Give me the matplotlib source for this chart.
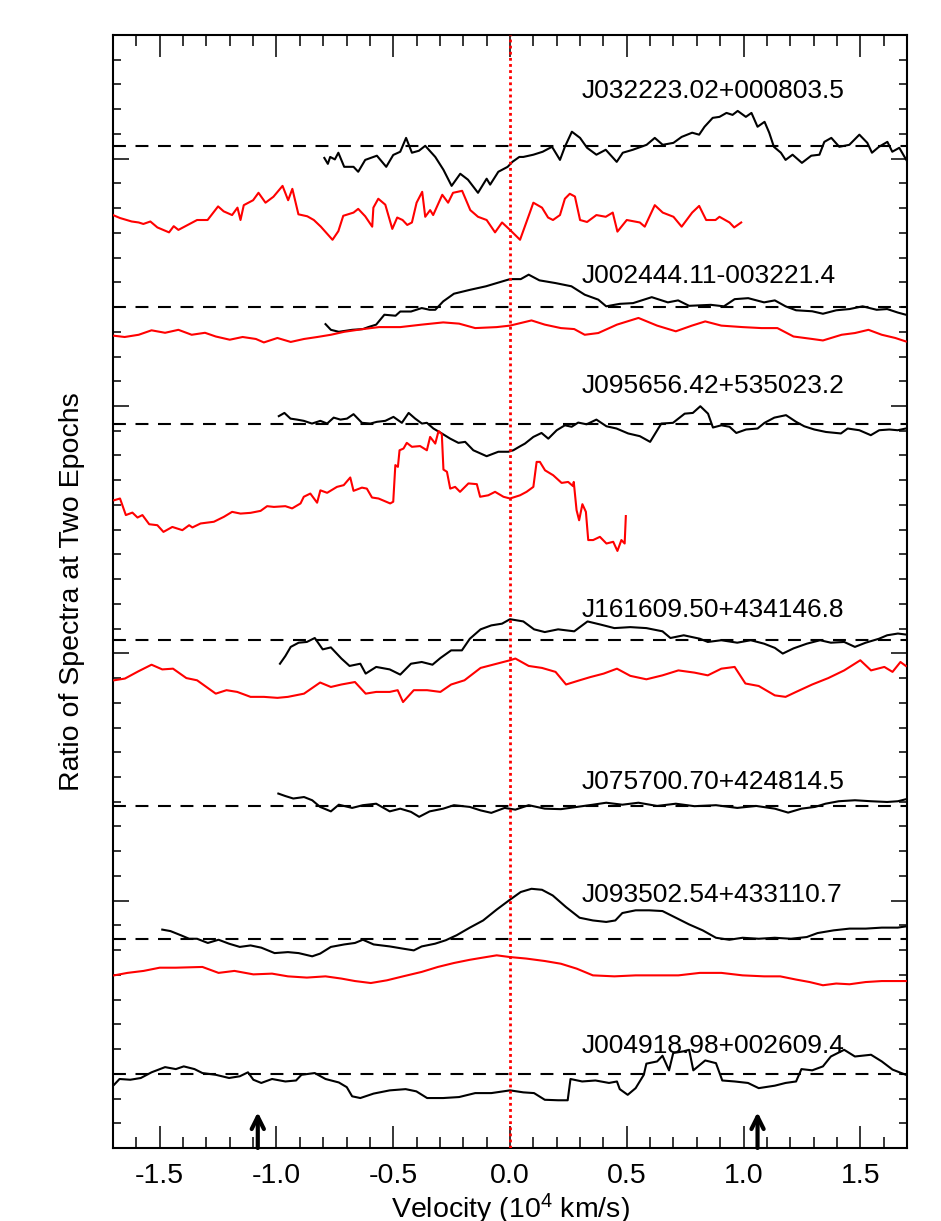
import matplotlib
matplotlib.use("Agg")
import matplotlib.pyplot as plt
from matplotlib.ticker import MultipleLocator, FormatStrFormatter

# ---------------- data (velocity in 1e4 km/s, ratio of spectra) ----------------
names = ["J032223.02+000803.5", "J002444.11-003221.4", "J095656.42+535023.2",
         "J161609.50+434146.8", "J075700.70+424814.5", "J093502.54+433110.7",
         "J004918.98+002609.4"]
levels = [4.052, 3.400, 2.929, 2.054, 1.383, 0.845, 0.299]   # vertical position of ratio = 1
label_y = [4.246, 3.498, 3.053, 2.147, 1.452, 0.995, 0.385]

v1b = [-0.795, -0.78, -0.77, -0.75, -0.735, -0.71, -0.67, -0.65, -0.62, -0.57, -0.53, -0.50, -0.47, -0.445, -0.42, -0.39, -0.363, -0.32, -0.285, -0.25, -0.213, -0.18, -0.137, -0.10, -0.085, -0.05, -0.01, 0.01, 0.04, 0.057, 0.10, 0.14, 0.18, 0.214, 0.235, 0.265, 0.30, 0.33, 0.37, 0.41, 0.457, 0.483, 0.526, 0.585, 0.62, 0.654, 0.70, 0.735, 0.78, 0.81, 0.833, 0.868, 0.897, 0.927, 0.953, 0.975, 1.01, 1.034, 1.06, 1.09, 1.11, 1.13, 1.16, 1.18, 1.21, 1.25, 1.29, 1.325, 1.346, 1.376, 1.41, 1.453, 1.496, 1.53, 1.55, 1.58, 1.616, 1.637, 1.667, 1.697]
r1b = [0.951, 0.927, 0.955, 0.945, 0.972, 0.915, 0.915, 0.895, 0.943, 0.96, 0.915, 0.963, 0.976, 1.032, 0.972, 0.98, 1.0, 0.955, 0.903, 0.838, 0.887, 0.863, 0.81, 0.867, 0.843, 0.895, 0.915, 0.935, 0.955, 0.955, 0.964, 0.976, 0.996, 0.943, 0.996, 1.057, 1.032, 0.992, 0.964, 0.984, 0.935, 0.972, 0.984, 1.004, 1.032, 1.004, 1.012, 1.036, 1.053, 1.045, 1.077, 1.113, 1.117, 1.133, 1.125, 1.141, 1.117, 1.133, 1.077, 1.097, 1.053, 0.996, 0.972, 0.943, 0.964, 0.931, 0.96, 0.964, 1.016, 1.032, 0.996, 1.004, 1.045, 1.012, 0.972, 0.996, 1.016, 0.976, 0.992, 0.943]

v1r = [-1.70, -1.67, -1.62, -1.59, -1.57, -1.54, -1.51, -1.46, -1.44, -1.42, -1.38, -1.34, -1.295, -1.25, -1.226, -1.19, -1.167, -1.154, -1.14, -1.10, -1.077, -1.047, -1.013, -0.974, -0.95, -0.932, -0.906, -0.868, -0.84, -0.81, -0.76, -0.735, -0.714, -0.67, -0.65, -0.62, -0.59, -0.585, -0.564, -0.534, -0.504, -0.483, -0.46, -0.44, -0.42, -0.40, -0.376, -0.363, -0.342, -0.329, -0.29, -0.265, -0.244, -0.205, -0.17, -0.137, -0.10, -0.064, -0.034, 0.0, 0.043, 0.085, 0.10, 0.137, 0.163, 0.184, 0.214, 0.235, 0.256, 0.278, 0.30, 0.33, 0.37, 0.41, 0.44, 0.46, 0.50, 0.556, 0.577, 0.62, 0.654, 0.70, 0.735, 0.78, 0.81, 0.84, 0.88, 0.897, 0.94, 0.96, 0.99]
r1r = [0.72, 0.708, 0.694, 0.69, 0.684, 0.694, 0.67, 0.65, 0.675, 0.66, 0.68, 0.70, 0.70, 0.755, 0.735, 0.72, 0.75, 0.70, 0.76, 0.78, 0.81, 0.77, 0.794, 0.838, 0.78, 0.826, 0.723, 0.715, 0.70, 0.673, 0.62, 0.655, 0.717, 0.73, 0.745, 0.715, 0.673, 0.75, 0.786, 0.762, 0.664, 0.71, 0.70, 0.68, 0.69, 0.77, 0.814, 0.713, 0.74, 0.72, 0.802, 0.77, 0.81, 0.818, 0.74, 0.713, 0.70, 0.65, 0.69, 0.66, 0.62, 0.73, 0.77, 0.75, 0.71, 0.70, 0.72, 0.786, 0.806, 0.795, 0.70, 0.692, 0.72, 0.713, 0.73, 0.653, 0.70, 0.69, 0.673, 0.76, 0.73, 0.713, 0.673, 0.73, 0.757, 0.70, 0.70, 0.713, 0.69, 0.67, 0.69]

v2b = [-0.79, -0.767, -0.733, -0.676, -0.63, -0.607, -0.573, -0.538, -0.49, -0.47, -0.424, -0.378, -0.344, -0.32, -0.286, -0.24, -0.17, -0.103, -0.057, 0.0, 0.046, 0.08, 0.126, 0.195, 0.263, 0.32, 0.378, 0.412, 0.47, 0.527, 0.607, 0.676, 0.72, 0.767, 0.86, 0.916, 0.962, 1.02, 1.088, 1.134, 1.18, 1.225, 1.294, 1.34, 1.397, 1.454, 1.51, 1.57, 1.615, 1.66, 1.695]
r2b = [0.931, 0.908, 0.90, 0.908, 0.911, 0.919, 0.929, 0.969, 0.965, 0.982, 0.982, 0.996, 0.989, 0.989, 1.023, 1.054, 1.07, 1.084, 1.097, 1.113, 1.113, 1.131, 1.108, 1.097, 1.084, 1.05, 1.03, 1.003, 1.013, 1.016, 1.04, 1.019, 1.027, 1.005, 1.009, 1.003, 1.032, 1.036, 1.019, 1.027, 1.003, 0.987, 0.983, 0.973, 0.987, 0.992, 1.003, 0.989, 0.992, 0.978, 0.969]

v2r = [-1.695, -1.65, -1.59, -1.535, -1.477, -1.42, -1.363, -1.306, -1.26, -1.2, -1.145, -1.088, -1.054, -0.996, -0.939, -0.882, -0.825, -0.767, -0.71, -0.63, -0.561, -0.47, -0.378, -0.286, -0.218, -0.149, -0.057, 0.0, 0.092, 0.149, 0.218, 0.275, 0.32, 0.378, 0.458, 0.55, 0.63, 0.71, 0.779, 0.836, 0.905, 0.996, 1.077, 1.145, 1.214, 1.294, 1.34, 1.42, 1.477, 1.535, 1.592, 1.65, 1.695]
r2r = [0.884, 0.879, 0.888, 0.906, 0.896, 0.908, 0.888, 0.896, 0.881, 0.868, 0.879, 0.871, 0.857, 0.875, 0.859, 0.871, 0.879, 0.888, 0.90, 0.911, 0.919, 0.919, 0.929, 0.938, 0.933, 0.915, 0.919, 0.925, 0.946, 0.929, 0.915, 0.911, 0.888, 0.895, 0.929, 0.956, 0.925, 0.902, 0.925, 0.942, 0.925, 0.919, 0.915, 0.915, 0.881, 0.871, 0.865, 0.888, 0.895, 0.908, 0.888, 0.875, 0.861]

v3b = [-0.99, -0.966, -0.94, -0.912, -0.883, -0.848, -0.812, -0.783, -0.755, -0.726, -0.698, -0.67, -0.634, -0.598, -0.57, -0.534, -0.499, -0.463, -0.434, -0.406, -0.377, -0.356, -0.328, -0.292, -0.256, -0.221, -0.192, -0.157, -0.10, -0.05, -0.007, 0.014, 0.043, 0.064, 0.10, 0.135, 0.164, 0.20, 0.235, 0.264, 0.292, 0.328, 0.37, 0.413, 0.456, 0.506, 0.556, 0.60, 0.648, 0.698, 0.748, 0.783, 0.815, 0.848, 0.869, 0.905, 0.94, 0.969, 1.011, 1.06, 1.09, 1.132, 1.182, 1.225, 1.26, 1.303, 1.353, 1.417, 1.446, 1.496, 1.545, 1.581, 1.624, 1.66, 1.695]
r3b = [1.03, 1.043, 1.02, 1.016, 1.011, 1.0, 1.011, 1.0, 1.024, 1.016, 1.02, 1.038, 1.003, 1.0, 1.007, 1.011, 1.027, 1.003, 1.043, 1.02, 1.0, 1.003, 0.98, 0.96, 0.939, 0.922, 0.926, 0.892, 0.868, 0.886, 0.886, 0.892, 0.908, 0.919, 0.946, 0.962, 0.939, 0.973, 0.993, 0.987, 1.004, 0.997, 1.016, 0.989, 0.98, 0.96, 0.949, 0.926, 1.0, 1.003, 1.04, 1.043, 1.07, 1.04, 0.984, 0.993, 0.987, 0.962, 0.976, 0.98, 1.003, 1.024, 1.034, 1.007, 0.989, 0.976, 0.966, 0.96, 0.98, 0.973, 0.953, 0.973, 0.976, 0.973, 0.98]

v3r = [-1.695, -1.67, -1.645, -1.617, -1.595, -1.574, -1.545, -1.51, -1.484, -1.446, -1.403, -1.374, -1.36, -1.325, -1.268, -1.225, -1.19, -1.154, -1.111, -1.068, -1.04, -1.011, -0.962, -0.933, -0.897, -0.883, -0.855, -0.826, -0.812, -0.783, -0.741, -0.712, -0.684, -0.67, -0.634, -0.613, -0.591, -0.563, -0.513, -0.50, -0.491, -0.48, -0.473, -0.456, -0.442, -0.42, -0.385, -0.356, -0.342, -0.32, -0.306, -0.292, -0.285, -0.27, -0.256, -0.235, -0.214, -0.178, -0.142, -0.128, -0.093, -0.064, -0.028, 0.0, 0.043, 0.071, 0.10, 0.114, 0.128, 0.15, 0.185, 0.221, 0.249, 0.27, 0.273, 0.285, 0.296, 0.31, 0.325, 0.335, 0.356, 0.385, 0.413, 0.442, 0.46, 0.477, 0.491, 0.496]
r3r = [0.69, 0.697, 0.63, 0.64, 0.62, 0.63, 0.593, 0.589, 0.562, 0.582, 0.569, 0.589, 0.58, 0.596, 0.603, 0.623, 0.643, 0.636, 0.639, 0.647, 0.666, 0.663, 0.666, 0.657, 0.677, 0.704, 0.717, 0.68, 0.73, 0.72, 0.744, 0.751, 0.782, 0.728, 0.741, 0.737, 0.701, 0.697, 0.677, 0.684, 0.832, 0.825, 0.892, 0.899, 0.922, 0.906, 0.909, 0.892, 0.946, 0.919, 0.97, 0.957, 0.814, 0.805, 0.737, 0.744, 0.724, 0.758, 0.755, 0.704, 0.71, 0.724, 0.704, 0.697, 0.71, 0.724, 0.744, 0.845, 0.845, 0.811, 0.791, 0.76, 0.764, 0.747, 0.764, 0.65, 0.609, 0.674, 0.643, 0.529, 0.529, 0.542, 0.515, 0.522, 0.485, 0.529, 0.515, 0.626]

v4b = [-0.985, -0.962, -0.939, -0.905, -0.87, -0.836, -0.802, -0.767, -0.722, -0.687, -0.641, -0.618, -0.573, -0.515, -0.47, -0.424, -0.378, -0.332, -0.298, -0.252, -0.206, -0.172, -0.126, -0.08, -0.034, 0.0, 0.057, 0.103, 0.149, 0.206, 0.275, 0.332, 0.389, 0.447, 0.515, 0.584, 0.653, 0.687, 0.744, 0.813, 0.847, 0.905, 0.973, 1.031, 1.088, 1.134, 1.168, 1.214, 1.271, 1.328, 1.374, 1.431, 1.477, 1.523, 1.58, 1.615, 1.661, 1.695]
r4b = [0.904, 0.935, 0.972, 0.989, 0.992, 1.008, 0.962, 0.97, 0.925, 0.895, 0.904, 0.864, 0.891, 0.881, 0.86, 0.904, 0.911, 0.9, 0.927, 0.958, 0.958, 1.005, 1.043, 1.059, 1.066, 1.084, 1.075, 1.043, 1.032, 1.043, 1.035, 1.075, 1.062, 1.048, 1.052, 1.048, 1.035, 1.008, 1.019, 1.005, 0.992, 0.999, 0.989, 0.999, 0.985, 0.968, 0.945, 0.966, 0.985, 0.999, 0.989, 0.992, 0.972, 0.989, 1.005, 1.019, 1.026, 1.022]

v4r = [-1.695, -1.649, -1.592, -1.535, -1.489, -1.443, -1.386, -1.34, -1.26, -1.214, -1.168, -1.111, -1.054, -0.996, -0.951, -0.882, -0.813, -0.767, -0.722, -0.664, -0.618, -0.573, -0.515, -0.481, -0.458, -0.412, -0.355, -0.298, -0.252, -0.195, -0.126, -0.057, 0.0, 0.023, 0.08, 0.137, 0.195, 0.24, 0.298, 0.344, 0.401, 0.458, 0.515, 0.584, 0.653, 0.721, 0.79, 0.847, 0.905, 0.962, 1.008, 1.065, 1.134, 1.18, 1.225, 1.294, 1.363, 1.431, 1.5, 1.546, 1.603, 1.638, 1.672, 1.695]
r4r = [0.837, 0.844, 0.873, 0.90, 0.881, 0.884, 0.846, 0.837, 0.783, 0.797, 0.79, 0.77, 0.77, 0.766, 0.77, 0.783, 0.828, 0.81, 0.82, 0.83, 0.783, 0.79, 0.79, 0.797, 0.749, 0.797, 0.797, 0.79, 0.82, 0.837, 0.887, 0.904, 0.918, 0.925, 0.895, 0.887, 0.871, 0.82, 0.837, 0.85, 0.864, 0.884, 0.855, 0.841, 0.857, 0.877, 0.868, 0.857, 0.884, 0.891, 0.824, 0.814, 0.776, 0.77, 0.79, 0.82, 0.846, 0.877, 0.918, 0.877, 0.891, 0.871, 0.911, 0.895]

v5b = [-0.992, -0.962, -0.928, -0.882, -0.847, -0.813, -0.767, -0.733, -0.676, -0.63, -0.573, -0.515, -0.47, -0.424, -0.389, -0.344, -0.286, -0.24, -0.172, -0.126, -0.08, -0.023, 0.023, 0.08, 0.149, 0.218, 0.286, 0.355, 0.412, 0.481, 0.55, 0.63, 0.71, 0.79, 0.882, 0.973, 1.054, 1.134, 1.191, 1.248, 1.306, 1.351, 1.408, 1.477, 1.546, 1.615, 1.661, 1.695]
r5b = [1.05, 1.04, 1.03, 1.036, 1.023, 0.996, 0.978, 1.005, 0.992, 1.003, 1.009, 0.978, 0.989, 0.976, 0.956, 0.978, 0.989, 1.003, 0.996, 0.982, 0.972, 0.992, 0.985, 1.003, 0.989, 0.987, 0.996, 1.005, 1.013, 1.005, 1.013, 1.0, 1.009, 0.999, 1.003, 0.992, 1.0, 0.989, 0.973, 0.989, 0.996, 1.009, 1.019, 1.023, 1.019, 1.016, 1.019, 1.027]

v6b = [-1.489, -1.454, -1.409, -1.374, -1.34, -1.294, -1.248, -1.203, -1.157, -1.111, -1.065, -1.008, -0.951, -0.905, -0.847, -0.813, -0.767, -0.71, -0.664, -0.63, -0.584, -0.515, -0.458, -0.412, -0.378, -0.321, -0.275, -0.229, -0.172, -0.115, -0.057, 0.0, 0.046, 0.092, 0.137, 0.183, 0.24, 0.298, 0.355, 0.412, 0.451, 0.481, 0.538, 0.596, 0.653, 0.71, 0.767, 0.825, 0.882, 0.939, 0.996, 1.065, 1.134, 1.203, 1.271, 1.317, 1.386, 1.454, 1.523, 1.592, 1.66, 1.695]
r6b = [1.038, 1.032, 1.015, 1.001, 1.001, 0.984, 0.997, 0.981, 0.968, 0.974, 0.965, 0.943, 0.947, 0.943, 0.93, 0.941, 0.968, 0.978, 0.984, 0.997, 0.978, 0.97, 0.961, 0.954, 0.97, 0.981, 0.995, 1.015, 1.046, 1.075, 1.119, 1.159, 1.19, 1.203, 1.199, 1.176, 1.129, 1.086, 1.075, 1.069, 1.075, 1.105, 1.116, 1.116, 1.113, 1.086, 1.059, 1.035, 1.005, 0.997, 1.005, 1.001, 1.005, 1.001, 1.008, 1.024, 1.035, 1.042, 1.042, 1.046, 1.046, 1.051]

v6r = [-1.695, -1.638, -1.569, -1.5, -1.431, -1.317, -1.248, -1.18, -1.099, -1.019, -0.951, -0.87, -0.79, -0.722, -0.664, -0.596, -0.527, -0.458, -0.378, -0.309, -0.24, -0.172, -0.115, -0.057, 0.0, 0.069, 0.149, 0.218, 0.286, 0.355, 0.447, 0.538, 0.63, 0.721, 0.813, 0.905, 0.996, 1.088, 1.157, 1.225, 1.283, 1.34, 1.397, 1.454, 1.523, 1.592, 1.695]
r6r = [0.853, 0.863, 0.871, 0.884, 0.884, 0.887, 0.863, 0.871, 0.857, 0.86, 0.849, 0.844, 0.849, 0.84, 0.83, 0.822, 0.833, 0.849, 0.867, 0.887, 0.903, 0.916, 0.925, 0.934, 0.927, 0.921, 0.911, 0.90, 0.88, 0.853, 0.849, 0.853, 0.853, 0.853, 0.863, 0.863, 0.853, 0.849, 0.849, 0.836, 0.826, 0.813, 0.82, 0.817, 0.826, 0.83, 0.83]

v7b = [-1.695, -1.672, -1.626, -1.581, -1.535, -1.477, -1.431, -1.397, -1.351, -1.317, -1.26, -1.203, -1.157, -1.122, -1.099, -1.065, -1.019, -0.962, -0.916, -0.893, -0.836, -0.79, -0.733, -0.699, -0.676, -0.641, -0.584, -0.515, -0.447, -0.401, -0.355, -0.286, -0.218, -0.149, -0.08, 0.0, 0.057, 0.103, 0.149, 0.206, 0.247, 0.259, 0.309, 0.366, 0.424, 0.458, 0.47, 0.504, 0.538, 0.573, 0.584, 0.63, 0.653, 0.681, 0.699, 0.744, 0.767, 0.785, 0.836, 0.882, 0.909, 0.962, 1.019, 1.065, 1.134, 1.18, 1.225, 1.248, 1.294, 1.34, 1.374, 1.431, 1.477, 1.546, 1.592, 1.638, 1.695]
r7b = [0.957, 0.98, 0.977, 0.984, 1.007, 1.028, 1.02, 1.031, 1.02, 1.004, 0.997, 0.984, 0.991, 1.007, 0.977, 0.964, 0.98, 0.97, 0.974, 0.997, 1.004, 0.98, 0.966, 0.947, 0.91, 0.903, 0.921, 0.934, 0.939, 0.93, 0.903, 0.903, 0.907, 0.923, 0.923, 0.934, 0.926, 0.923, 0.896, 0.894, 0.894, 0.98, 0.97, 0.974, 0.964, 0.97, 0.939, 0.916, 0.943, 0.997, 1.042, 1.051, 1.074, 1.015, 1.085, 1.092, 1.098, 1.015, 1.055, 1.044, 0.974, 0.97, 0.964, 0.943, 0.953, 0.964, 0.97, 1.02, 1.015, 1.031, 1.071, 1.098, 1.071, 1.078, 1.051, 1.018, 0.997]

black_curves = [(v1b, r1b), (v2b, r2b), (v3b, r3b), (v4b, r4b), (v5b, r5b), (v6b, r6b), (v7b, r7b)]
red_curves = [(v1r, r1r), (v2r, r2r), (v3r, r3r), (v4r, r4r), None, (v6r, r6r), None]

arrow_v = [-1.08, 1.06]
xticks = [-1.5, -1.0, -0.5, 0.0, 0.5, 1.0, 1.5]

# ---------------- style ----------------
plt.rcParams['font.family'] = ['Liberation Sans', 'DejaVu Sans']
plt.rcParams['mathtext.fontset'] = 'custom'
plt.rcParams['mathtext.rm'] = 'Liberation Sans'
plt.rcParams['mathtext.default'] = 'regular'
plt.rcParams['axes.unicode_minus'] = False

W, H = 941, 1221
fig = plt.figure(figsize=(W / 100, H / 100), dpi=100)
ax = fig.add_axes([113 / W, 73 / H, 794 / W, 1113 / H])
ax.set_xlim(-1.7, 1.7)
ax.set_ylim(0, 4.5)

for i in range(len(names)):
    lev = levels[i]
    ax.axhline(lev, color='black', lw=1.5, linestyle=(0, (6.2, 4.6)), zorder=1)
    vb, rb = black_curves[i]
    ax.plot(vb, [r - 1 + lev for r in rb], color='black', lw=1.5, zorder=3)
    if red_curves[i] is not None:
        vr, rr = red_curves[i]
        ax.plot(vr, [r - 1 + lev for r in rr], color='red', lw=1.5, zorder=3)
    ax.text(0.307, label_y[i], names[i], fontsize=19, ha='left', va='baseline', zorder=5)

ax.axvline(0.0, color='red', lw=2.0, linestyle=(0, (1.0, 1.2)), zorder=4)

for xa in arrow_v:
    ax.annotate('', xy=(xa, 0.145), xytext=(xa, 0.0),
                arrowprops=dict(arrowstyle='->', lw=3, color='black',
                                mutation_scale=22, shrinkA=0, shrinkB=0))

ax.set_xticks(xticks)
ax.xaxis.set_major_formatter(FormatStrFormatter('%.1f'))
ax.xaxis.set_minor_locator(MultipleLocator(0.1))
ax.yaxis.set_major_locator(MultipleLocator(1.0))
ax.yaxis.set_minor_locator(MultipleLocator(0.1))
ax.tick_params(axis='both', which='both', direction='in', top=True, right=True, width=1.1)
ax.tick_params(axis='x', which='major', length=15.8, labelsize=20.5, pad=11)
ax.tick_params(axis='x', which='minor', length=7.9)
ax.tick_params(axis='y', which='major', length=11.5, labelleft=False)
ax.tick_params(axis='y', which='minor', length=5.8)
for s in ax.spines.values():
    s.set_linewidth(1.5)

ax.set_xlabel('Velocity (10$^{4}$ km/s)', fontsize=20.5, labelpad=2)
ax.set_ylabel('Ratio of Spectra at Two Epochs', fontsize=20.5, labelpad=17)

fig.savefig('out.png', dpi=100)
